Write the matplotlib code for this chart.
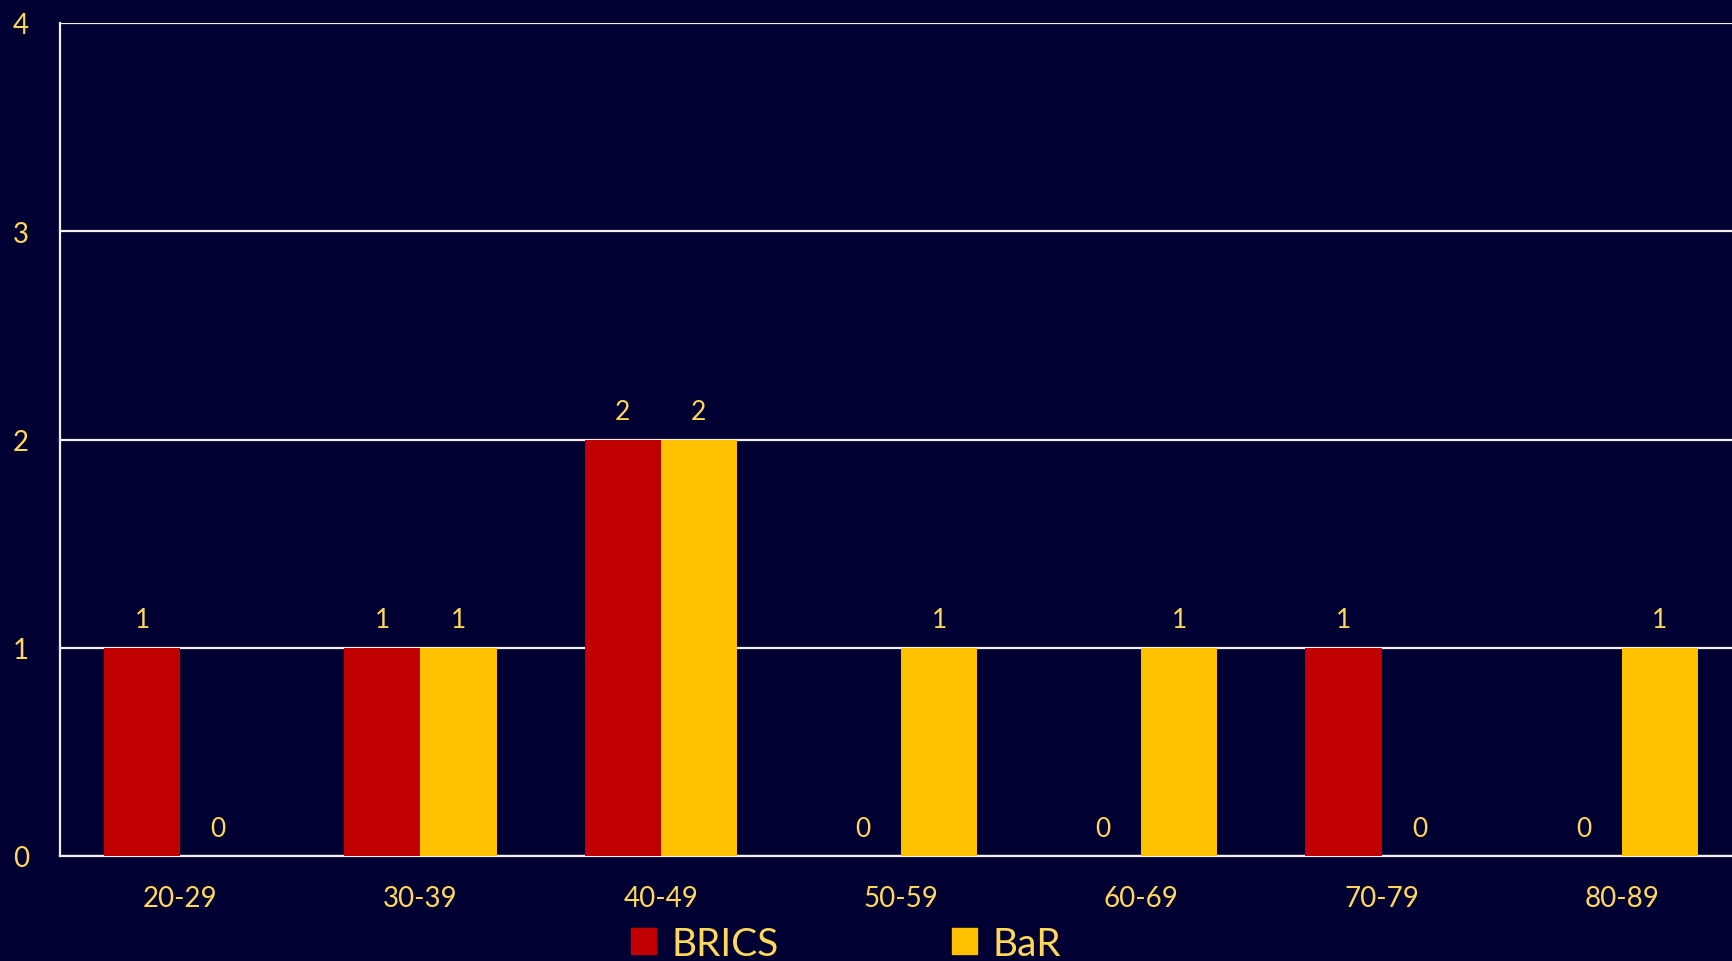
import numpy as np
import matplotlib
matplotlib.use("Agg")
from matplotlib import pyplot as plt
from matplotlib.patches import Patch

# data
groups = ['20-29', '30-39', '40-49', '50-59', '60-69', '70-79', '80-89']
brics = [1, 1, 2, 0, 0, 1, 0]
bar = [0, 1, 2, 1, 1, 0, 1]

bg = '#000033'
txt = '#FFD85A'
red = '#C00000'
gold = '#FFC000'
grid = '#F2EFE6'

plt.rcParams['font.family'] = ['Lato', 'DejaVu Sans']

W, H = 1733, 962
fig = plt.figure(figsize=(W / 100, H / 100), dpi=100, facecolor=bg)
# axes runs past the right edge like in the original screenshot
ax = fig.add_axes([60 / W, 1 - 857 / H, (1742 - 60) / W, (857 - 24) / H], facecolor=bg)

x = np.arange(len(groups))
w = 0.317
b1 = ax.bar(x - w / 2, brics, w, color=red, zorder=3)
b2 = ax.bar(x + w / 2, bar, w, color=gold, zorder=3)

for rects, vals in ((b1, brics), (b2, bar)):
    for r, v in zip(rects, vals):
        ax.annotate(str(v), (r.get_x() + r.get_width() / 2, v), xytext=(0, 11),
                    textcoords='offset points', ha='center', va='bottom',
                    color=txt, fontsize=19)

ax.set_xlim(-0.5, len(groups) - 0.5)
ax.set_ylim(0, 4)
ax.set_yticks([0, 1, 2, 3, 4])
ax.set_xticks(x)
ax.set_xticklabels(groups)
ax.yaxis.grid(True, color=grid, linewidth=1.6, zorder=1)
ax.set_axisbelow(True)
for s in ['top', 'right']:
    ax.spines[s].set_visible(False)
for s in ['left', 'bottom']:
    ax.spines[s].set_color(grid)
    ax.spines[s].set_linewidth(1.6)
ax.tick_params(axis='both', length=0, colors=txt, labelsize=20)
ax.tick_params(axis='x', pad=21)
for lab in ax.get_yticklabels():
    lab.set_horizontalalignment('left')
ax.yaxis.set_tick_params(pad=34)

handles = [Patch(color=red, label='BRICS'), Patch(color=gold, label='BaR')]
leg = fig.legend(handles=handles, loc='center left', bbox_to_anchor=(631 / W, 1 - 945 / H),
                 ncol=2, frameon=False, fontsize=28, handlelength=0.65, handleheight=0.65,
                 handletextpad=0.4, columnspacing=4.45, borderpad=0, borderaxespad=0)
for t in leg.get_texts():
    t.set_color(txt)

fig.savefig('out.png', dpi=100, facecolor=bg)
